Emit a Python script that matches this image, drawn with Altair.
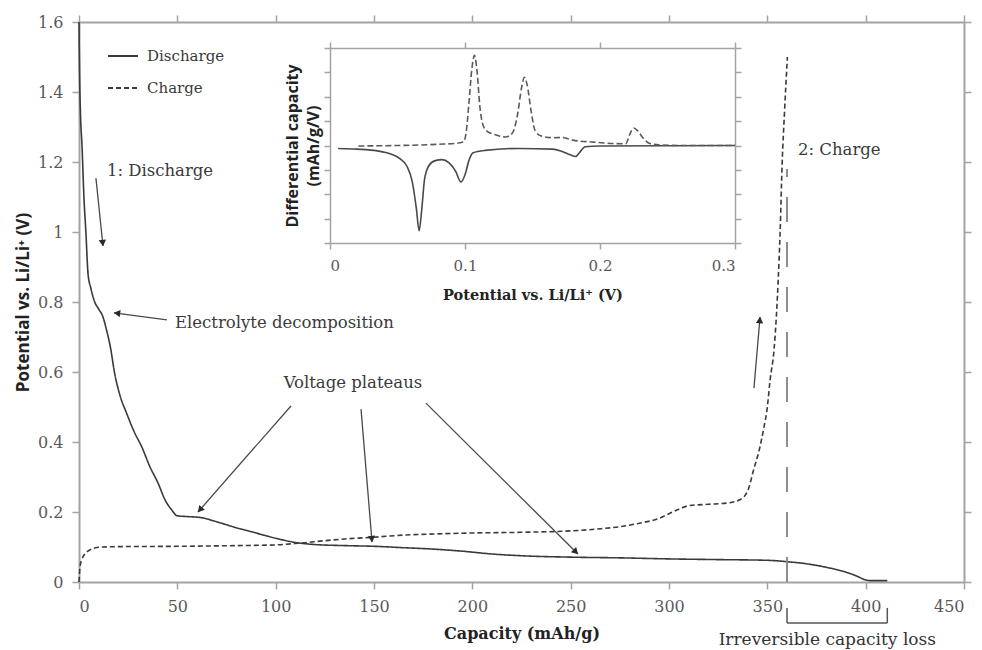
import math
import altair as alt
import pandas as pd

# ---------------- data ----------------
dis_cap = [0, 0.3, 0.8, 1.5, 2.5, 3.5, 4.6, 6, 8, 10, 12, 14, 16, 18, 21, 24, 28, 32, 36, 40,
           44, 47, 50, 55, 62, 70, 80, 90, 100, 110, 120, 135, 150, 165, 180, 195, 210, 225, 250, 275,
           300, 325, 350, 360, 370, 380, 390, 395, 400, 402, 411]
dis_pot = [1.6, 1.45, 1.33, 1.25, 1.1, 1.0, 0.88, 0.84, 0.8, 0.78, 0.76, 0.72, 0.67, 0.6, 0.53, 0.485, 0.43, 0.385, 0.33, 0.285,
           0.232, 0.207, 0.189, 0.187, 0.184, 0.172, 0.155, 0.14, 0.125, 0.113, 0.107, 0.104, 0.102, 0.098, 0.094, 0.088, 0.08, 0.075, 0.071, 0.069,
           0.066, 0.064, 0.062, 0.058, 0.052, 0.042, 0.028, 0.018, 0.006, 0.004, 0.004]

chg_cap = [0, 0.5, 1.5, 3, 5, 8, 12, 20, 50, 80, 100, 112, 125, 135, 150, 165, 180, 200, 225, 250,
           265, 275, 285, 295, 300, 305, 310, 320, 330, 336, 340, 343, 346, 348, 350, 351.4, 353.4, 354.6, 355.5, 356.5,
           357.5, 358.8, 360.2]
chg_pot = [0, 0.043, 0.065, 0.08, 0.09, 0.097, 0.1, 0.101, 0.102, 0.104, 0.106, 0.111, 0.118, 0.123, 0.128, 0.134, 0.137, 0.14, 0.142, 0.146,
           0.152, 0.158, 0.168, 0.182, 0.195, 0.208, 0.218, 0.222, 0.226, 0.235, 0.26, 0.32, 0.38, 0.434, 0.5, 0.577, 0.663, 0.76, 0.86, 1.0,
           1.19, 1.35, 1.5]

ins_dis_v = [0.006, 0.02, 0.035, 0.045, 0.052, 0.057, 0.061, 0.064, 0.066, 0.068, 0.07, 0.073, 0.078, 0.083, 0.088,
             0.093, 0.097, 0.1, 0.103, 0.106, 0.115, 0.14, 0.165, 0.172, 0.178, 0.182, 0.185, 0.189, 0.2, 0.3]
ins_dis_q = [-0.12, -0.15, -0.22, -0.35, -0.55, -0.85, -1.5, -2.6, -3.5, -2.6, -1.4, -0.85, -0.62, -0.58, -0.7,
             -1.05, -1.5, -1.2, -0.6, -0.3, -0.2, -0.12, -0.15, -0.25, -0.38, -0.45, -0.28, -0.05, -0.02, 0.0]

ins_chg_v = [0.021, 0.05, 0.08, 0.095, 0.099, 0.101, 0.103, 0.105, 0.107, 0.109, 0.111, 0.113, 0.116, 0.122, 0.13,
             0.135, 0.139, 0.142, 0.144, 0.146, 0.149, 0.152, 0.156, 0.165, 0.172, 0.18, 0.195, 0.21, 0.219, 0.222,
             0.225, 0.228, 0.232, 0.237, 0.245, 0.26, 0.3]
ins_chg_q = [-0.02, 0.0, 0.05, 0.1, 0.15, 0.6, 1.8, 3.1, 3.7, 3.0, 1.6, 0.9, 0.6, 0.45, 0.35,
             0.5, 1.3, 2.4, 2.8, 2.5, 1.4, 0.6, 0.4, 0.32, 0.33, 0.22, 0.14, 0.08, 0.07, 0.45,
             0.72, 0.6, 0.3, 0.08, 0.02, 0.0, 0.0]

series_names = ["Discharge", "Charge"]

x_ticks = [0, 50, 100, 150, 200, 250, 300, 350, 400, 450]
y_ticks = [0, 0.2, 0.4, 0.6, 0.8, 1, 1.2, 1.4, 1.6]
ins_x_ticks = [0, 0.1, 0.2, 0.3]
ins_y_ticks = [-4, -3, -2, -1, 0, 1, 2, 3, 4]

# annotation arrows (data coordinates): start -> tip
arr_x1 = [8.6, 44.7, 107.8, 143.4, 176.4, 343.2]
arr_y1 = [1.154, 0.749, 0.503, 0.494, 0.511, 0.554]
arr_x2 = [12.2, 17.8, 60.5, 149.0, 253.7, 346.3]
arr_y2 = [0.96, 0.769, 0.2, 0.114, 0.08, 0.757]

lab_left_text = ["1: Discharge", "Electrolyte decomposition", "2: Charge"]
lab_left_x = [14.2, 48.8, 365.6]
lab_left_y = [1.174, 0.74, 1.234]
lab_center_text = ["Voltage plateaus"]
lab_center_x = [139.3]
lab_center_y = [0.569]

irr_cap = [360, 411]
irr_line_top = 1.18
irr_text = "Irreversible capacity loss"
irr_text_x = 380.5
irr_text_y = -0.166

# ---------------- layout ----------------
W, H = 885, 560
XMAX, YMAX = 450, 1.6
INS_X_RANGE = [251, 656]
INS_Y_RANGE = [221, 26]

SERIF = "DejaVu Serif"
SANS = "Open Sans"
AX_GRAY = "#a3a3a3"
LAB_GRAY = "#595959"
INK = "#3a3a3a"


def xs():
    return alt.Scale(domain=[0, XMAX], nice=False, zero=False)


def ys():
    return alt.Scale(domain=[0, YMAX], nice=False, zero=False)


base_axis = dict(grid=False, domainColor=AX_GRAY, domainWidth=2, tickColor=AX_GRAY, tickWidth=1.5,
                 tickSize=7, labelFont=SERIF, labelFontSize=16, labelColor=LAB_GRAY, format="~f")

main_df = pd.DataFrame({
    "cap": dis_cap + chg_cap,
    "pot": dis_pot + chg_pot,
    "series": [series_names[0]] * len(dis_cap) + [series_names[1]] * len(chg_cap),
    "ord": list(range(len(dis_cap))) + list(range(len(chg_cap))),
})

lines = alt.Chart(main_df).mark_line(color=INK, strokeWidth=1.6, interpolate="monotone").encode(
    x=alt.X("cap:Q", scale=xs(), axis=alt.Axis(
        orient="bottom", values=x_ticks, labelPadding=9, title="Capacity (mAh/g)",
        titleFont=SERIF, titleFontSize=16, titleFontWeight="bold", titleColor="#222222", titlePadding=11,
        **base_axis)),
    y=alt.Y("pot:Q", scale=ys(), axis=alt.Axis(
        orient="left", values=y_ticks, labelPadding=9, title="Potential vs. Li/Li⁺ (V)",
        titleFont=SANS, titleFontSize=17, titleFontWeight="bold", titleColor="#222222", titlePadding=5,
        **base_axis)),
    strokeDash=alt.StrokeDash("series:N", scale=alt.Scale(domain=series_names, range=[[1, 0], [5, 3]]),
                              legend=alt.Legend(title=None, orient="none", legendX=28, legendY=18,
                                                symbolType="stroke", symbolSize=900, symbolStrokeWidth=1.8,
                                                symbolStrokeColor=INK, labelFont=SERIF, labelFontSize=15,
                                                labelColor=INK, labelOffset=8, rowPadding=8)),
    order="ord:Q",
)

# vertical dashed line at the charge end, carrying the top/right frame axes
vdf = pd.DataFrame({"cap": [irr_cap[0]], "y0": [0], "y1": [irr_line_top]})
frame_axis = dict(base_axis, labels=False, title=None)
vline = alt.Chart(vdf).mark_rule(color="#8c8c8c", strokeWidth=2, strokeDash=[25, 20]).encode(
    x=alt.X("cap:Q", scale=xs(), axis=alt.Axis(orient="top", values=x_ticks, **frame_axis)),
    y=alt.Y("y0:Q", scale=ys(), axis=alt.Axis(orient="right", values=y_ticks, **frame_axis)),
    y2="y1:Q",
)

# arrows
px_x = W / XMAX
px_y = H / YMAX
angles, hx, hy = [], [], []
for a, b, c, d in zip(arr_x1, arr_y1, arr_x2, arr_y2):
    dx = (c - a) * px_x
    dy = -(d - b) * px_y
    ln = math.hypot(dx, dy)
    angles.append(math.degrees(math.atan2(dx, -dy)) % 360)
    hx.append(c - 3 * dx / ln / px_x)
    hy.append(d + 3 * dy / ln / px_y)
adf = pd.DataFrame({"x1": arr_x1, "y1": arr_y1, "x2": arr_x2, "y2": arr_y2})
hdf = pd.DataFrame({"x": hx, "y": hy, "ang": angles})

arrows = alt.Chart(adf).mark_rule(color="#4a4a4a", strokeWidth=1.3).encode(
    x=alt.X("x1:Q", scale=xs(), axis=None), y=alt.Y("y1:Q", scale=ys(), axis=None),
    x2="x2:Q", y2="y2:Q",
)
heads = alt.Chart(hdf).mark_point(shape="triangle-up", filled=True, size=55, color="#2a2a2a", opacity=1).encode(
    x=alt.X("x:Q", scale=xs(), axis=None), y=alt.Y("y:Q", scale=ys(), axis=None),
    angle=alt.Angle("ang:Q", scale=None),
)

ldf = pd.DataFrame({"x": lab_left_x, "y": lab_left_y, "t": lab_left_text})
cdf = pd.DataFrame({"x": lab_center_x, "y": lab_center_y, "t": lab_center_text})
txt_style = dict(font=SERIF, fontSize=16.5, color=INK, baseline="middle")
text_left = alt.Chart(ldf).mark_text(align="left", **txt_style).encode(
    x=alt.X("x:Q", scale=xs(), axis=None), y=alt.Y("y:Q", scale=ys(), axis=None), text="t:N")
text_center = alt.Chart(cdf).mark_text(align="center", **txt_style).encode(
    x=alt.X("x:Q", scale=xs(), axis=None), y=alt.Y("y:Q", scale=ys(), axis=None), text="t:N")

# bracket for irreversible capacity loss (below the axis)
bdf = pd.DataFrame({
    "x1": [irr_cap[0], irr_cap[0], irr_cap[1]],
    "x2": [irr_cap[1], irr_cap[0], irr_cap[1]],
    "y1": [-0.117, -0.117, -0.117],
    "y2": [-0.117, -0.074, -0.074],
})
bracket = alt.Chart(bdf).mark_rule(color="#555555", strokeWidth=1.5).encode(
    x=alt.X("x1:Q", scale=xs(), axis=None), y=alt.Y("y1:Q", scale=ys(), axis=None),
    x2="x2:Q", y2="y2:Q",
)
btdf = pd.DataFrame({"x": [irr_text_x], "y": [irr_text_y], "t": [irr_text]})
bracket_text = alt.Chart(btdf).mark_text(align="center", baseline="middle", font=SERIF, fontSize=17,
                                         color="#333333").encode(
    x=alt.X("x:Q", scale=xs(), axis=None), y=alt.Y("y:Q", scale=ys(), axis=None), text="t:N")

# ---------------- inset ----------------
def ixs():
    return alt.Scale(domain=[0, 0.3], range=INS_X_RANGE, nice=False, zero=False)


def iys():
    return alt.Scale(domain=[-4, 4], range=INS_Y_RANGE, nice=False, zero=False)


ins_axis = dict(base_axis, tickSize=6, domainWidth=1.5, labelFontSize=15)

idis = pd.DataFrame({"v": ins_dis_v, "q": ins_dis_q})
ichg = pd.DataFrame({"v": ins_chg_v, "q": ins_chg_q})

inset_dis = alt.Chart(idis).mark_line(color="#4a4a4a", strokeWidth=1.6, interpolate="monotone").encode(
    x=alt.X("v:Q", scale=ixs(), axis=alt.Axis(
        orient="bottom", offset=INS_Y_RANGE[0] - H, values=ins_x_ticks, labelPadding=9,
        title="Potential vs. Li/Li⁺ (V)", titleFont=SERIF, titleFontSize=14.5, titleFontWeight="bold",
        titleColor="#222222", titlePadding=15, **ins_axis)),
    y=alt.Y("q:Q", scale=iys(), axis=alt.Axis(
        orient="left", offset=-INS_X_RANGE[0], values=ins_y_ticks, labels=False,
        title=["Differential capacity", "(mAh/g/V)"], titleFont=SANS, titleFontSize=16,
        titleFontWeight="bold", titleColor="#222222", titlePadding=2, titleLineHeight=21,
        **ins_axis)),
)
inset_chg = alt.Chart(ichg).mark_line(color="#5a5a5a", strokeWidth=1.6, strokeDash=[6, 3],
                                      interpolate="monotone").encode(
    x=alt.X("v:Q", scale=ixs(), axis=alt.Axis(
        orient="top", offset=-INS_Y_RANGE[1], values=ins_x_ticks, labels=False, title=None, **ins_axis)),
    y=alt.Y("q:Q", scale=iys(), axis=alt.Axis(
        orient="right", offset=INS_X_RANGE[1] - W, values=ins_y_ticks, labels=False, title=None, **ins_axis)),
)

chart = alt.layer(
    lines, vline, arrows, heads, text_left, text_center, bracket, bracket_text, inset_dis, inset_chg
).resolve_scale(x="independent", y="independent").properties(
    width=W, height=H,
    autosize=alt.AutoSizeParams(type="none"),
    padding={"left": 71, "top": 14, "right": 10, "bottom": 70},
    background="white",
).configure_view(stroke=None)

chart.save("out.html", embed_options={"renderer": "svg", "actions": False})
